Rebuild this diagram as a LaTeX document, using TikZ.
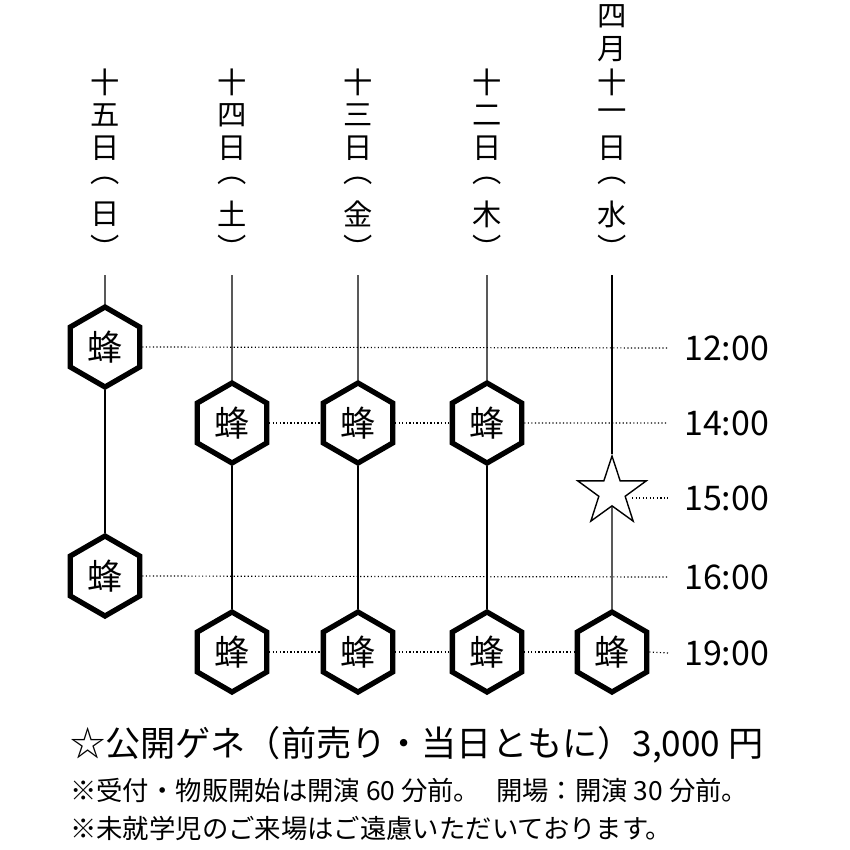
\documentclass[tikz,border=0pt]{standalone}
\usepackage{fontspec}
\setmainfont{Noto Sans CJK JP}
\usetikzlibrary{shapes.geometric}
\begin{document}
\begin{tikzpicture}[x=0.03cm,y=-0.03cm,
  hexa/.style={regular polygon,regular polygon sides=6,shape border rotate=30,minimum size=80*0.03cm,draw,line width=4.5pt,fill=white,inner sep=0pt,font=\fontsize{30}{30}\selectfont},
  vch/.style={font=\fontsize{25}{25}\selectfont,inner sep=0pt},
  tm/.style={font=\fontsize{29}{29}\selectfont,inner sep=0pt},
  dot/.style={dotted,line width=1pt},
  vl/.style={line width=1pt}]
\useasboundingbox[fill=white] (0,0) rectangle (850,850);
% headers
\foreach \x/\chars/\n in {105/{十,五,日,︵,日,︶}/a,232/{十,四,日,︵,土,︶}/b,358/{十,三,日,︵,金,︶}/c,487/{十,二,日,︵,木,︶}/d,612/{四,月,十,一,日,︵,水,︶}/e}{
  \foreach \c [count=\i] in \chars {\global\let\last\i}
  \foreach \c [count=\i] in \chars {
    \pgfmathsetmacro{\yy}{247-(\last-\i)*33}
    \node[vch] (h\n\i) at (\x,\yy) {\c};
  }
  \coordinate (t\n) at (\x,275);
}
\coordinate (e12) at (668,348);
\coordinate (e14) at (668,423);
\coordinate (e15) at (668,498);
\coordinate (e16) at (668,577);
\coordinate (e19) at (668,653);
\node[hexa] (a1) at (105,347) {蜂};
\node[hexa] (a2) at (105,576) {蜂};
\node[hexa] (b1) at (232,423) {蜂};
\node[hexa] (c1) at (358,423) {蜂};
\node[hexa] (d1) at (487,423) {蜂};
\node[hexa] (b2) at (232,652) {蜂};
\node[hexa] (c2) at (358,652) {蜂};
\node[hexa] (d2) at (487,652) {蜂};
\node[hexa] (e2) at (612,652) {蜂};
\node[star,star points=5,star point ratio=2.6,minimum size=72*0.03cm,draw,line width=1.2pt,fill=white,inner sep=0pt] (s) at (612,492) {};
\draw[vl] (ta) -- (a1.north);
\draw[vl] (a1.south) -- (a2.north);
\draw[vl] (tb) -- (b1.north); \draw[vl] (b1.south) -- (b2.north);
\draw[vl] (tc) -- (c1.north); \draw[vl] (c1.south) -- (c2.north);
\draw[vl] (td) -- (d1.north); \draw[vl] (d1.south) -- (d2.north);
\draw[vl] (te) -- (s.north); \draw[vl] (s.south) -- (e2.north);
\draw[dot] (a1.east) -- (e12);
\draw[dot] (b1.east) -- (c1.west); \draw[dot] (c1.east) -- (d1.west); \draw[dot] (d1.east) -- (e14);
\draw[dot] (s.east |- e15) -- (e15);
\draw[dot] (a2.east) -- (e16);
\draw[dot] (b2.east) -- (c2.west); \draw[dot] (c2.east) -- (d2.west); \draw[dot] (d2.east) -- (e2.west); \draw[dot] (e2.east) -- (e19);
\node[tm,anchor=west] (l12) at (684,348) {12:00};
\node[tm,anchor=west] (l14) at (684,423) {14:00};
\node[tm,anchor=west] (l15) at (684,498) {15:00};
\node[tm,anchor=west] (l16) at (684,577) {16:00};
\node[tm,anchor=west] (l19) at (684,653) {19:00};
\node[anchor=west,inner sep=0pt,font=\fontsize{30}{30}\selectfont] (n1) at (70,745) {☆公開ゲネ（前売り・当日ともに）3,000 円};
\node[anchor=west,inner sep=0pt,font=\fontsize{22.5}{22.5}\selectfont] (n2) at (70,790) {※受付・物販開始は開演 60 分前。\hspace{0.6em}開場：開演 30 分前。};
\node[anchor=west,inner sep=0pt,font=\fontsize{22.5}{22.5}\selectfont] (n3) at (70,828) {※未就学児のご来場はご遠慮いただいております。};
\end{tikzpicture}
\end{document}
